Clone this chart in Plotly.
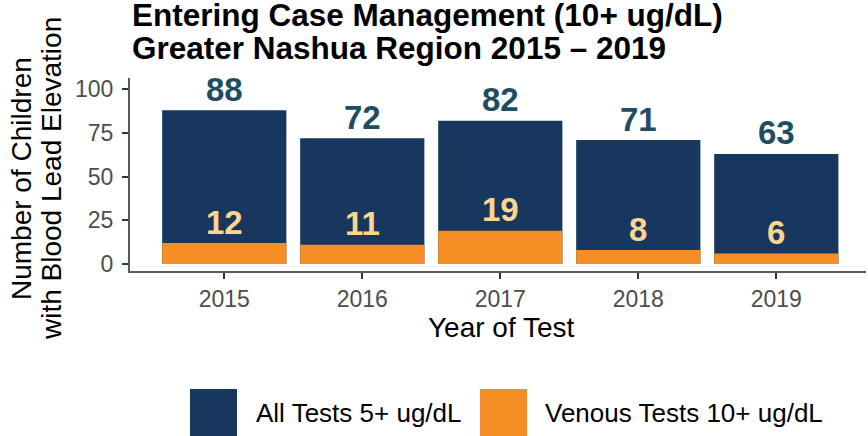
import plotly.graph_objects as go

# ---- data ----
years = ["2015", "2016", "2017", "2018", "2019"]
all_tests = [88, 72, 82, 71, 63]
venous_tests = [12, 11, 19, 8, 6]
y_ticks = [0, 25, 50, 75, 100]

NAVY = "#17375e"
ORANGE = "#f68e26"
TEAL = "#1e4d61"
YELLOW = "#fdd58e"
FONT = "Liberation Sans, Arial, sans-serif"

W, H = 868, 436
L, R, T, B = 130, 2, 78, 165
PW, PH = W - L - R, H - T - B


def px(x):
    return (x - L) / PW


def py(y):
    return (H - B - y) / PH


fig = go.Figure()
fig.add_trace(go.Bar(x=years, y=all_tests, name="All Tests 5+ ug/dL",
                     marker=dict(color=NAVY, line=dict(width=0)), width=0.9))
fig.add_trace(go.Bar(x=years, y=venous_tests, name="Venous Tests 10+ ug/dL",
                     marker=dict(color=ORANGE, line=dict(width=0)), width=0.9))

ann = []
for i, v in enumerate(all_tests):
    ann.append(dict(x=i, y=v, xref="x", yref="y", text=str(v), showarrow=False,
                    yanchor="middle", yshift=21,
                    font=dict(family=FONT, size=33, color=TEAL, weight="bold")))
for i, v in enumerate(venous_tests):
    ann.append(dict(x=i, y=v, xref="x", yref="y", text=str(v), showarrow=False,
                    yanchor="middle", yshift=21,
                    font=dict(family=FONT, size=33, color=YELLOW, weight="bold")))

# title
title_lines = ["Entering Case Management (10+ ug/dL)", "Greater Nashua Region 2015 \u2013 2019"]
for txt, yc in zip(title_lines, [15, 48]):
    ann.append(dict(x=px(130), y=py(yc), xref="paper", yref="paper", text=txt,
                    showarrow=False, xanchor="left", yanchor="middle",
                    font=dict(family=FONT, size=31.5, color="black", weight="bold")))

# y axis title (two lines)
for txt, xc in zip(["Number of Children", "with Blood Lead Elevation"], [21, 51]):
    ann.append(dict(x=px(xc), y=py(179), xref="paper", yref="paper", text=txt,
                    showarrow=False, textangle=-90, xanchor="center", yanchor="middle",
                    font=dict(family=FONT, size=28, color="black")))

# x axis title
ann.append(dict(x=px(501), y=py(327), xref="paper", yref="paper", text="Year of Test",
                showarrow=False, xanchor="center", yanchor="middle",
                font=dict(family=FONT, size=28, color="black")))

# legend (custom keys)
shapes = []
legend_items = [("All Tests 5+ ug/dL", NAVY, 190, 253.5), ("Venous Tests 10+ ug/dL", ORANGE, 480, 543)]
for name, col, bx, tx in legend_items:
    shapes.append(dict(type="rect", xref="paper", yref="paper",
                       x0=px(bx), x1=px(bx + 47), y0=py(436), y1=py(389),
                       fillcolor=col, line=dict(width=0)))
    ann.append(dict(x=px(tx), y=py(413), xref="paper", yref="paper", text=name,
                    showarrow=False, xanchor="left", yanchor="middle",
                    font=dict(family=FONT, size=26, color="black")))

fig.update_layout(
    width=W, height=H,
    margin=dict(l=L, r=R, t=T, b=B),
    paper_bgcolor="white", plot_bgcolor="white",
    barmode="overlay", bargap=0.1,
    showlegend=False,
    annotations=ann, shapes=shapes,
    font=dict(family=FONT),
)
fig.update_xaxes(type="category", range=[-0.683, 4.65], showline=True, linecolor="#5a5a5a",
                 linewidth=2, ticks="outside", ticklen=6, tickwidth=2, tickcolor="#333333",
                 tickfont=dict(family=FONT, size=23, color="#4d4d4d"),
                 showgrid=False, zeroline=False, fixedrange=True)
fig.update_yaxes(range=[-4.0, 106.5], tickvals=y_ticks, showline=True, linecolor="#5a5a5a",
                 linewidth=2, ticks="outside", ticklen=6, tickwidth=2, tickcolor="#333333",
                 ticklabelstandoff=4,
                 tickfont=dict(family=FONT, size=23, color="#4d4d4d"),
                 showgrid=False, zeroline=False, fixedrange=True)

fig.write_html("out.html", config={"displayModeBar": False},
               post_script="document.body.style.margin='0';document.body.style.overflow='hidden';")
